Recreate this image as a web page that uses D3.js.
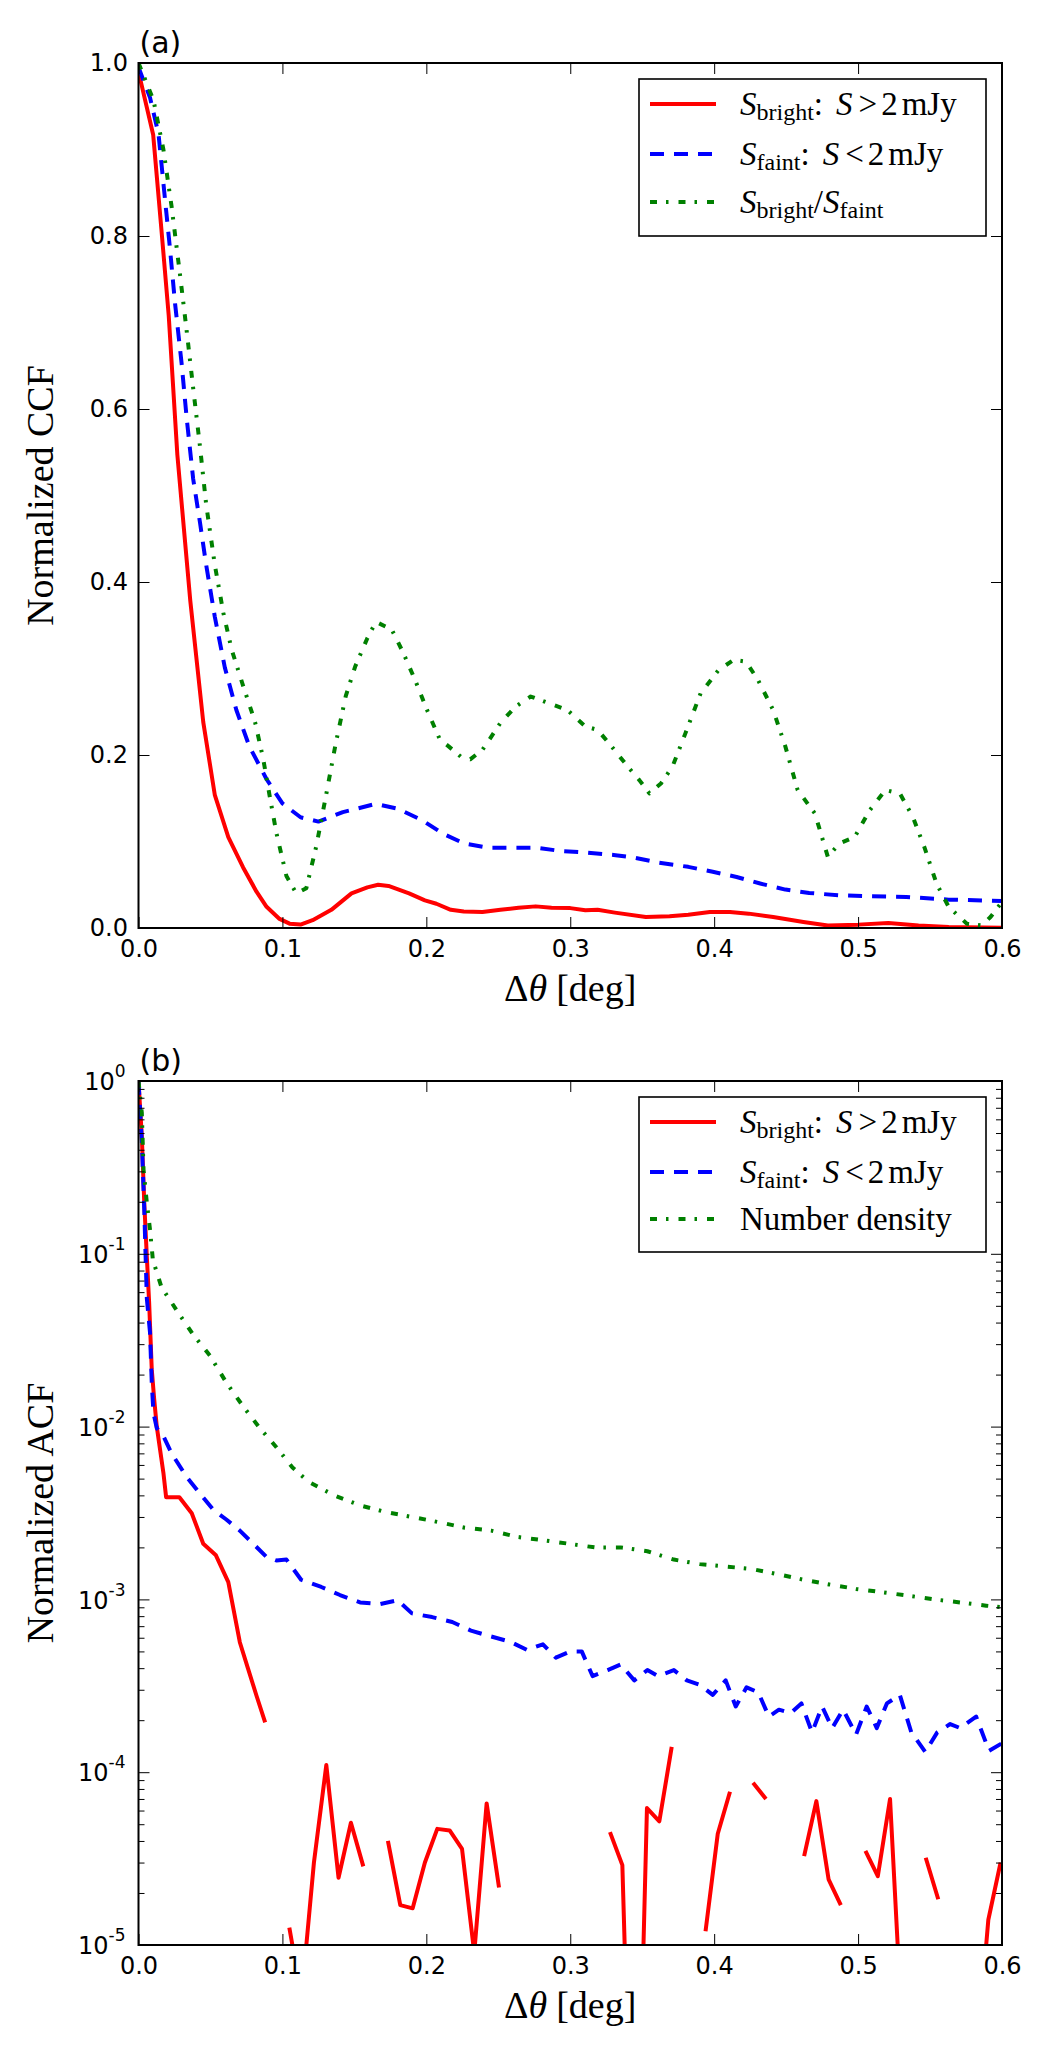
<!DOCTYPE html>
<html><head><meta charset="utf-8">
<script src="https://cdn.jsdelivr.net/npm/d3@7"></script>
<style>body{margin:0;background:#fff}svg{display:block}</style>
</head><body>
<svg id="c" width="1050" height="2063"></svg>
<script>
// ---------- DATA ----------
const xTicks = [0, 0.1, 0.2, 0.3, 0.4, 0.5, 0.6];
const xTickLabels = ["0.0", "0.1", "0.2", "0.3", "0.4", "0.5", "0.6"];
const yTicksA = [0, 0.2, 0.4, 0.6, 0.8, 1.0];
const yTickLabelsA = ["0.0", "0.2", "0.4", "0.6", "0.8", "1.0"];
const yTicksB = [1e-5, 1e-4, 1e-3, 1e-2, 1e-1, 1];
const yTickExpB = ["-5", "-4", "-3", "-2", "-1", "0"];

// Panel (a): normalized CCF
const ccfBrightX = [0, 0.0102, 0.016, 0.021, 0.027, 0.036, 0.045, 0.053, 0.0624, 0.0727, 0.082, 0.089, 0.098, 0.105, 0.1126, 0.121, 0.134, 0.148, 0.159, 0.1665, 0.1737, 0.188, 0.199, 0.207, 0.217, 0.226, 0.239, 0.2515, 0.264, 0.276, 0.287, 0.300, 0.3105, 0.319, 0.331, 0.3525, 0.369, 0.382, 0.397, 0.411, 0.424, 0.441, 0.462, 0.479, 0.5, 0.521, 0.542, 0.563, 0.6];
const ccfBrightY = [0.99, 0.917, 0.806, 0.708, 0.547, 0.378, 0.238, 0.154, 0.105, 0.070, 0.042, 0.0245, 0.0105, 0.005, 0.004, 0.009, 0.021, 0.040, 0.047, 0.050, 0.0486, 0.040, 0.032, 0.028, 0.021, 0.019, 0.0185, 0.021, 0.0235, 0.025, 0.0235, 0.023, 0.0205, 0.021, 0.0178, 0.0127, 0.0135, 0.0154, 0.0185, 0.0185, 0.0166, 0.0127, 0.007, 0.003, 0.0039, 0.0058, 0.003, 0.0012, 0.0004];

const ccfFaintX = [0, 0.008, 0.0139, 0.0185, 0.0219, 0.0254, 0.030, 0.0335, 0.038, 0.0427, 0.047, 0.053, 0.060, 0.068, 0.077, 0.089, 0.1, 0.1126, 0.125, 0.142, 0.165, 0.180, 0.197, 0.2116, 0.2263, 0.243, 0.277, 0.2935, 0.3105, 0.3315, 0.344, 0.361, 0.382, 0.399, 0.4156, 0.432, 0.4495, 0.466, 0.487, 0.508, 0.5335, 0.563, 0.6];
const ccfFaintY = [0.995, 0.96, 0.918, 0.841, 0.785, 0.722, 0.652, 0.589, 0.519, 0.469, 0.42, 0.36, 0.301, 0.252, 0.21, 0.172, 0.144, 0.128, 0.123, 0.134, 0.1435, 0.138, 0.1247, 0.109, 0.0977, 0.0927, 0.0927, 0.089, 0.0873, 0.0842, 0.0815, 0.0757, 0.0707, 0.065, 0.059, 0.0514, 0.0444, 0.0405, 0.0378, 0.0367, 0.0359, 0.0328, 0.0313];

const ccfRatioX = [0, 0.0104, 0.0173, 0.023, 0.029, 0.0335, 0.038, 0.0427, 0.047, 0.053, 0.059, 0.0647, 0.0727, 0.081, 0.0866, 0.091, 0.0958, 0.1028, 0.1097, 0.1166, 0.1236, 0.1305, 0.137, 0.144, 0.1505, 0.159, 0.165, 0.176, 0.184, 0.1926, 0.201, 0.2094, 0.2157, 0.224, 0.2305, 0.239, 0.2515, 0.262, 0.2725, 0.285, 0.298, 0.3105, 0.319, 0.327, 0.340, 0.348, 0.355, 0.363, 0.371, 0.380, 0.3906, 0.403, 0.4135, 0.422, 0.4304, 0.441, 0.4495, 0.458, 0.470, 0.479, 0.487, 0.4977, 0.508, 0.519, 0.529, 0.538, 0.546, 0.5545, 0.563, 0.5756, 0.586, 0.592, 0.6];
const ccfRatioY = [1.0, 0.957, 0.9, 0.834, 0.753, 0.69, 0.624, 0.557, 0.49, 0.42, 0.364, 0.322, 0.28, 0.238, 0.196, 0.154, 0.11, 0.06, 0.04, 0.046, 0.095, 0.155, 0.213, 0.268, 0.302, 0.335, 0.354, 0.345, 0.318, 0.285, 0.25, 0.218, 0.2097, 0.198, 0.195, 0.206, 0.237, 0.256, 0.2676, 0.26, 0.252, 0.233, 0.229, 0.2135, 0.1865, 0.171, 0.1556, 0.167, 0.1865, 0.225, 0.2714, 0.298, 0.31, 0.308, 0.287, 0.252, 0.2097, 0.1595, 0.1324, 0.0822, 0.0977, 0.1054, 0.136, 0.1595, 0.1556, 0.1286, 0.0938, 0.0514, 0.0243, 0.005, 0.003, 0.0127, 0.030];

// Panel (b): normalized ACF (null = non-positive, masked on log axis)
const acfBrightX = [0, 0.0023, 0.004, 0.0058, 0.0074, 0.0092, 0.0109, 0.0127, 0.015, 0.0173, 0.0192, 0.0284, 0.037, 0.045, 0.0538, 0.0624, 0.0704, 0.076, 0.082, 0.088, 0.0962, 0.1048, 0.1133, 0.1219, 0.1305, 0.139, 0.1476, 0.1562, 0.1648, 0.1733, 0.1819, 0.1905, 0.199, 0.2076, 0.2162, 0.2248, 0.2333, 0.2419, 0.2505, 0.259, 0.319, 0.3276, 0.3362, 0.3448, 0.3533, 0.3619, 0.3705, 0.379, 0.3855, 0.394, 0.4025, 0.411, 0.4195, 0.427, 0.436, 0.445, 0.454, 0.4625, 0.471, 0.4795, 0.488, 0.4965, 0.5051, 0.5137, 0.5222, 0.5308, 0.539, 0.547, 0.5557, 0.564, 0.5733, 0.5819, 0.5905, 0.599];
const acfBrightY = [1.0, 0.48, 0.197, 0.096, 0.052, 0.0215, 0.0144, 0.01, 0.00735, 0.0054, 0.0039, 0.0039, 0.00315, 0.0021, 0.0018, 0.00126, 0.000565, 0.0004, 0.000277, 0.000194, null, 1.26e-5, 5e-6, 3.0e-5, 1.1e-4, 2.45e-5, 5.1e-5, 2.85e-5, null, 4.0e-5, 1.7e-5, 1.63e-5, 3.0e-5, 4.7e-5, 4.6e-5, 3.6e-5, 9e-6, 6.6e-5, 2.15e-5, null, null, 4.5e-5, 2.9e-5, 1e-7, 6.2e-5, 5.2e-5, 1.4e-4, null, null, 1.2e-5, 4.4e-5, 7.7e-5, null, 8.7e-5, 7e-5, null, null, 3.27e-5, 6.8e-5, 2.4e-5, 1.7e-5, null, 3.5e-5, 2.5e-5, 7e-5, 3e-6, null, 3.2e-5, 1.84e-5, null, null, 2e-6, 1.4e-5, 3e-5];

const acfFaintX = [0, 0.0023, 0.004, 0.0058, 0.008, 0.0092, 0.0104, 0.0127, 0.0173, 0.023, 0.0335, 0.0427, 0.052, 0.061, 0.0704, 0.0797, 0.089, 0.0958, 0.1028, 0.113, 0.127, 0.14, 0.154, 0.168, 0.18, 0.19, 0.204, 0.218, 0.231, 0.245, 0.258, 0.27, 0.281, 0.29, 0.3, 0.308, 0.3155, 0.326, 0.335, 0.3445, 0.3536, 0.361, 0.372, 0.381, 0.39, 0.399, 0.408, 0.415, 0.4225, 0.4306, 0.438, 0.445, 0.4533, 0.4606, 0.468, 0.475, 0.482, 0.4896, 0.4986, 0.506, 0.513, 0.52, 0.529, 0.537, 0.5467, 0.555, 0.564, 0.571, 0.582, 0.591, 0.6];
const acfFaintY = [1.0, 0.45, 0.18, 0.055, 0.035, 0.018, 0.012, 0.0098, 0.0088, 0.0070, 0.0051, 0.0041, 0.0033, 0.0029, 0.0025, 0.0021, 0.00176, 0.00168, 0.0017, 0.0013, 0.00118, 0.00106, 0.00096, 0.00094, 0.00099, 0.00083, 0.00079, 0.00074, 0.00066, 0.00061, 0.00057, 0.00051, 0.00055, 0.00046, 0.0005, 0.0005, 0.00036, 0.00039, 0.00042, 0.00034, 0.00039, 0.00036, 0.00039, 0.00034, 0.00032, 0.00028, 0.00034, 0.00024, 0.00031, 0.00029, 0.00021, 0.00023, 0.00022, 0.00025, 0.00017, 0.00024, 0.00018, 0.00023, 0.000165, 0.00024, 0.00018, 0.00025, 0.00028, 0.00017, 0.000131, 0.00017, 0.00019, 0.00018, 0.00021, 0.000133, 0.000147];

const acfDensityX = [0, 0.0023, 0.0035, 0.0058, 0.008, 0.01, 0.016, 0.0266, 0.038, 0.0497, 0.061, 0.0727, 0.0843, 0.0958, 0.107, 0.118, 0.136, 0.154, 0.172, 0.19, 0.2085, 0.2267, 0.245, 0.263, 0.281, 0.299, 0.317, 0.335, 0.3536, 0.372, 0.39, 0.408, 0.426, 0.444, 0.462, 0.48, 0.4986, 0.517, 0.535, 0.553, 0.571, 0.589, 0.6];
const acfDensityY = [1.0, 0.655, 0.307, 0.197, 0.138, 0.092, 0.064, 0.047, 0.034, 0.0257, 0.018, 0.0131, 0.0098, 0.0076, 0.0058, 0.0048, 0.0040, 0.0035, 0.0032, 0.0030, 0.0028, 0.0026, 0.0025, 0.0023, 0.0022, 0.0021, 0.0020, 0.0020, 0.0019, 0.0017, 0.0016, 0.00155, 0.0015, 0.0014, 0.0013, 0.00122, 0.00115, 0.0011, 0.00105, 0.001, 0.00096, 0.00092, 0.0009];

// Legend entries: segments [text, kind, dx] kind: i = italic, s = subscript, n = normal
const legendA = [
  [["S","i"],["bright","s"],[":","n"],["S","i",13],[">","n",6],["2","n",4],["mJy","n",4]],
  [["S","i"],["faint","s"],[":","n"],["S","i",13],["<","n",6],["2","n",4],["mJy","n",4]],
  [["S","i"],["bright","s"],["/","n"],["S","i"],["faint","s"]]
];
const legendB = [
  legendA[0], legendA[1],
  [["Number density","n"]]
];
const seriesColors = ["#ff0000", "#0000ff", "#008000"];
const seriesDash = [null, "14,10", "7,9,2.5,10"];

// ---------- LAYOUT ----------
const svg = d3.select("#c");
const L = 138.5, R = 1002;
const panels = [
  {top: 63, bottom: 928, tag: "(a)", ylab: "Normalized CCF"},
  {top: 1081, bottom: 1945, tag: "(b)", ylab: "Normalized ACF"}
];
const x = d3.scaleLinear().domain([0, 0.6]).range([L, R]);
const yA = d3.scaleLinear().domain([0, 1]).range([panels[0].bottom, panels[0].top]);
const yB = d3.scaleLog().domain([1e-5, 1]).range([panels[1].bottom, panels[1].top]);

const tickFont = "DejaVu Sans, sans-serif";
const serif = "Liberation Serif, Times New Roman, serif";

function zipXY(xs, ys) { return xs.map((v, i) => [v, ys[i]]); }

function styleAxis(g) {
  g.select(".domain").remove();
  g.selectAll(".tick line").attr("stroke", "#000").attr("stroke-width", 1);
  g.selectAll(".tick text").attr("font-family", tickFont).attr("font-size", 24).attr("fill", "#000");
}

function drawPanel(p, y, isLog, series, legendRows, legendBox) {
  const g = svg.append("g");
  const clipId = "clip" + p.tag.replace(/\W/g, "");
  svg.append("clipPath").attr("id", clipId).append("rect")
    .attr("x", L).attr("y", p.top).attr("width", R - L).attr("height", p.bottom - p.top);

  const line = d3.line().x(d => x(d[0])).y(d => y(d[1]))
    .defined(d => d[1] != null && d[1] > 0);
  const lg = g.append("g").attr("clip-path", `url(#${clipId})`);
  series.forEach((s, i) => {
    lg.append("path").datum(s).attr("d", line)
      .attr("fill", "none").attr("stroke", seriesColors[i]).attr("stroke-width", 4)
      .attr("stroke-linejoin", "round").attr("stroke-linecap", "butt")
      .attr("stroke-dasharray", seriesDash[i]);
  });

  const bottom = d3.axisBottom(x).tickValues(xTicks).tickSize(-11).tickSizeOuter(0).tickPadding(12)
    .tickFormat((d, i) => xTickLabels[i]);
  g.append("g").attr("transform", `translate(0,${p.bottom})`).call(bottom).call(styleAxis);
  const top = d3.axisTop(x).tickValues(xTicks).tickSize(-11).tickSizeOuter(0).tickFormat("");
  g.append("g").attr("transform", `translate(0,${p.top})`).call(top).call(styleAxis);

  const yt = isLog ? yTicksB : yTicksA;
  const left = d3.axisLeft(y).tickValues(yt).tickSize(-11).tickSizeOuter(0).tickPadding(10.5)
    .tickFormat(isLog ? () => "" : (d, i) => yTickLabelsA[i]);
  const lax = g.append("g").attr("transform", `translate(${L},0)`).call(left).call(styleAxis);
  const right = d3.axisRight(y).tickValues(yt).tickSize(-11).tickSizeOuter(0).tickFormat("");
  g.append("g").attr("transform", `translate(${R},0)`).call(right).call(styleAxis);

  if (isLog) {
    lax.selectAll(".tick text").each(function(d, i) {
      const t = d3.select(this).attr("x", -13).attr("dy", null).attr("y", 8.7);
      t.append("tspan").text("10");
      t.append("tspan").attr("font-size", 17).attr("dy", -13).text(yTickExpB[i]);
    });
    const minors = [];
    for (let e = -5; e < 0; e++) for (let m = 2; m <= 9; m++) minors.push(m * Math.pow(10, e));
    g.append("g").attr("transform", `translate(${L},0)`)
      .call(d3.axisLeft(y).tickValues(minors).tickSize(-6).tickSizeOuter(0).tickFormat("")).call(styleAxis);
    g.append("g").attr("transform", `translate(${R},0)`)
      .call(d3.axisRight(y).tickValues(minors).tickSize(-6).tickSizeOuter(0).tickFormat("")).call(styleAxis);
  }

  g.append("rect").attr("x", L).attr("y", p.top).attr("width", R - L).attr("height", p.bottom - p.top)
    .attr("fill", "none").attr("stroke", "#000").attr("stroke-width", 2);

  g.append("text").attr("x", L + 1).attr("y", p.top - 10).attr("font-family", tickFont)
    .attr("font-size", 30).text(p.tag);

  const xl = g.append("text").attr("x", (L + R) / 2).attr("y", p.bottom + 73)
    .attr("text-anchor", "middle").attr("font-family", serif).attr("font-size", 38);
  xl.append("tspan").text("\u0394");
  xl.append("tspan").attr("font-style", "italic").text("\u03b8");
  xl.append("tspan").attr("dx", 9).text("[deg]");

  g.append("text").attr("transform", `translate(53,${(p.top + p.bottom) / 2}) rotate(-90)`)
    .attr("text-anchor", "middle").attr("font-family", serif).attr("font-size", 38).text(p.ylab);

  const lb = g.append("g");
  lb.append("rect").attr("x", legendBox.x0).attr("y", legendBox.y0)
    .attr("width", legendBox.x1 - legendBox.x0).attr("height", legendBox.y1 - legendBox.y0)
    .attr("fill", "#fff").attr("stroke", "#000").attr("stroke-width", 1.6);
  legendRows.forEach((row, i) => {
    const cy = legendBox.rows[i];
    lb.append("line").attr("x1", 650).attr("x2", 716).attr("y1", cy).attr("y2", cy)
      .attr("stroke", seriesColors[i]).attr("stroke-width", 4).attr("stroke-dasharray", seriesDash[i]);
    const t = lb.append("text").attr("x", 740).attr("y", cy + 11)
      .attr("font-family", serif).attr("font-size", 33).attr("fill", "#000");
    let sub = false;
    row.forEach(seg => {
      const ts = t.append("tspan").text(seg[0]);
      let dy = 0;
      if (seg[1] === "s") { ts.attr("font-size", 24); if (!sub) dy = 5; sub = true; }
      else { if (sub) dy = -5; sub = false; }
      if (dy) ts.attr("dy", dy);
      if (seg[1] === "i") ts.attr("font-style", "italic");
      if (seg[2]) ts.attr("dx", seg[2]);
    });
  });
}

drawPanel(panels[0], yA, false,
  [zipXY(ccfBrightX, ccfBrightY), zipXY(ccfFaintX, ccfFaintY), zipXY(ccfRatioX, ccfRatioY)],
  legendA, {x0: 639, x1: 986, y0: 79, y1: 236, rows: [104, 154, 202]});
drawPanel(panels[1], yB, true,
  [zipXY(acfBrightX, acfBrightY), zipXY(acfFaintX, acfFaintY), zipXY(acfDensityX, acfDensityY)],
  legendB, {x0: 639, x1: 986, y0: 1097, y1: 1252, rows: [1122, 1172, 1219]});
</script>
</body></html>
